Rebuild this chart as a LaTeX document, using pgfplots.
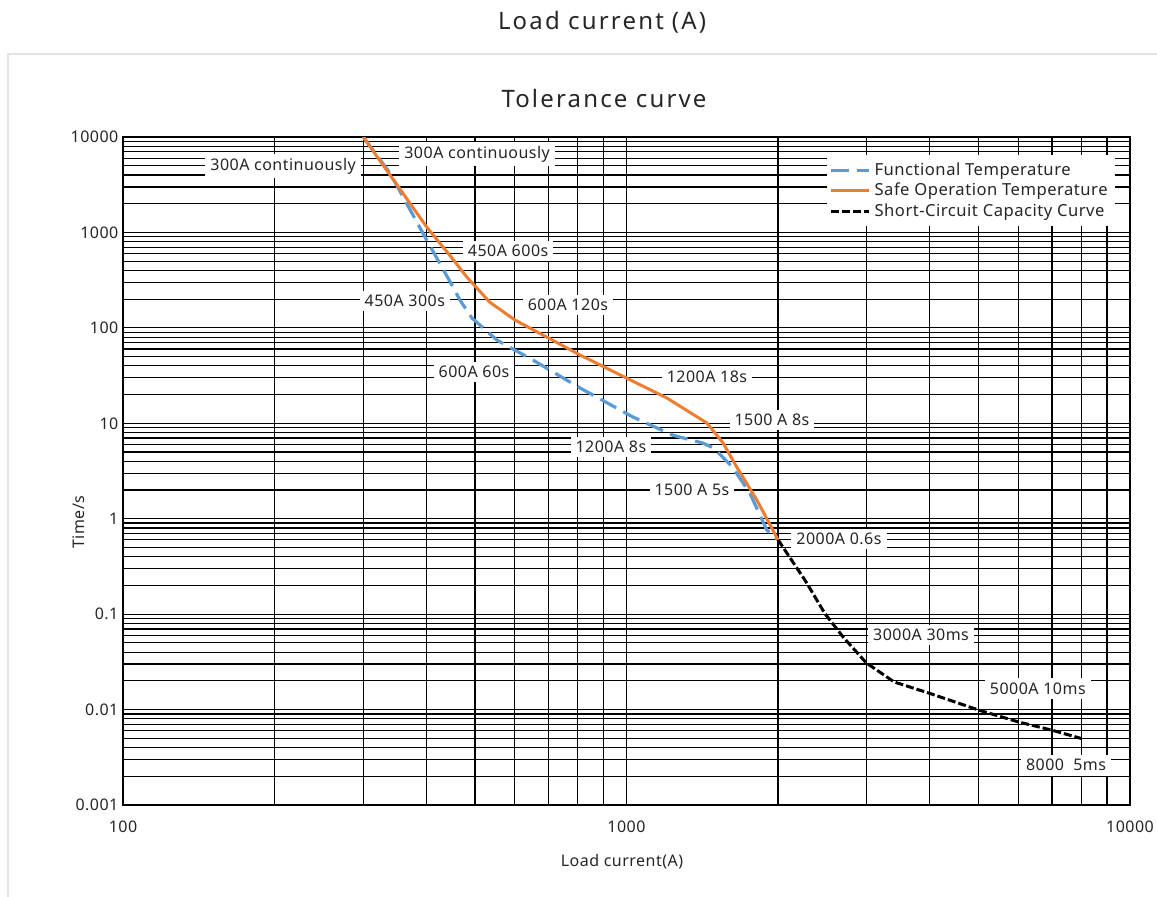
\documentclass[border=0pt]{standalone}
\usepackage{fontspec}
\setmainfont{Noto Sans}[LetterSpace=3]
\newfontfamily\titlefont{Noto Sans}[LetterSpace=9]
\usepackage{pgfplots}
\pgfplotsset{compat=1.18}
\definecolor{fblue}{HTML}{5B9BD5}
\definecolor{sorange}{HTML}{ED7D31}
\definecolor{txt}{HTML}{262626}
\begin{document}
\begin{tikzpicture}
\useasboundingbox (0,0) rectangle (578.5pt,448pt);
\draw[line width=1pt, gray!22] (3.75pt,-2pt) -- (3.75pt,421pt) -- (582pt,421pt);
\node[font=\titlefont\fontsize{12}{14}\selectfont, text=txt] at (301pt,437pt) {Load current\,\,(A)};
\node[font=\titlefont\fontsize{12}{14}\selectfont, text=txt] at (302pt,398.5pt) {Tolerance curve};
\node[font=\fontsize{8}{10}\selectfont, text=txt] at (311pt,17pt) {Load current(A)};
\node[font=\fontsize{8}{10}\selectfont, text=txt, rotate=90] at (39.5pt,187pt) {Time/s};
\begin{axis}[
  at={(61.5pt,45.5pt)}, anchor=south west,
  width=503.5pt, height=334pt, scale only axis,
  xmode=log, ymode=log,
  xmin=100, xmax=10000, ymin=0.001, ymax=10000,
  xtick={100,1000,10000}, xticklabels={100,1000,10000},
  ytick={0.001,0.01,0.1,1,10,100,1000,10000},
  yticklabels={0.001,0.01,0.1,1,10,100,1000,10000},
  minor xtick={200,300,400,500,600,700,800,900,2000,3000,4000,5000,6000,7000,8000,9000},
  minor ytick={0.002,0.003,0.004,0.005,0.006,0.007,0.008,0.009,
               0.02,0.03,0.04,0.05,0.06,0.07,0.08,0.09,
               0.2,0.3,0.4,0.5,0.6,0.7,0.8,0.9,
               2,3,4,5,6,7,8,9,
               20,30,40,50,60,70,80,90,
               200,300,400,500,600,700,800,900,
               2000,3000,4000,5000,6000,7000,8000,9000},
  grid=both,
  major grid style={black, line width=0.6pt},
  minor grid style={black, line width=0.6pt},
  major tick length=0pt, minor tick length=0pt,
  axis line style={black, line width=0.8pt},
  /pgf/number format/assume math mode=true,
  ticklabel style={font=\fontsize{8}{10}\selectfont, text=txt},
  xticklabel style={yshift=-4.5pt},
  yticklabel style={xshift=1.2pt},
  legend style={at={(1,1)}, anchor=north east, xshift=-7.5pt, yshift=-9pt,
    draw=none, fill=white, font=\fontsize{8.3}{9}\selectfont, text=txt,
    inner sep=1.5pt, row sep=-1.5pt, cells={anchor=west}},
  legend cell align=left,
  legend image code/.code={\draw[#1] (0cm,0cm) -- (0.66cm,0cm);},
]
\tikzset{lab/.style={fill=white, inner xsep=2.5pt, inner ysep=2.2pt, text=txt, font=\fontsize{8}{10}\selectfont}}
\node[lab] at (axis cs:208,4966) {300A continuously};
\node[lab] at (axis cs:505,6637) {300A continuously};
\node[lab] at (axis cs:582,638) {450A 600s};
\node[lab] at (axis cs:363,191) {450A 300s};
\node[lab] at (axis cs:765,173) {600A 120s};
\node[lab] at (axis cs:498,34.4) {600A 60s};
\node[lab] at (axis cs:1445,30.5) {1200A 18s};
\node[lab] at (axis cs:1945,10.8) {1500 A 8s};
\node[lab] at (axis cs:931,5.63) {1200A 8s};
\node[lab] at (axis cs:1349,2.0) {1500 A 5s};
\node[lab] at (axis cs:2642,0.611) {2000A 0.6s};
\node[lab] at (axis cs:3846,0.0603) {3000A 30ms};
\node[lab] at (axis cs:6561,0.0167) {5000A 10ms};
\node[lab] at (axis cs:7464,0.00261) {8000\ \ 5ms};

\addplot[fblue, line width=1.6pt, dash pattern=on 9pt off 4pt] coordinates {
(300,10000) (339,4195) (401,832) (450,281) (467,195) (493,127) (553,74.5)
(600,58.5) (652,46) (809,23.4) (1031,11.6) (1236,7.5) (1418,6.2) (1490,5.5)
(1624,3.47) (1758,1.85) (1900,0.76) (2000,0.6)};
\addlegendentry{Functional Temperature}
\addplot[sorange, line width=1.5pt] coordinates {
(300,10000) (401,1140) (450,540) (482,340) (535,186) (600,121) (809,51.9)
(1000,29.8) (1203,18.4) (1445,10.05) (1556,6.2) (1656,3.47) (1815,1.57) (2000,0.6)};
\addlegendentry{Safe Operation Temperature}
\addplot[black, line width=1.5pt, dash pattern=on 4pt off 1.5pt] coordinates {
(2000,0.6) (2262,0.227) (2477,0.1016) (2691,0.0578) (2993,0.0309) (3399,0.0195)
(4006,0.01475) (5012,0.00986) (6000,0.00743) (7000,0.00608) (8000,0.00498)};
\addlegendentry{Short-Circuit Capacity Curve}
\end{axis}
\end{tikzpicture}
\end{document}
